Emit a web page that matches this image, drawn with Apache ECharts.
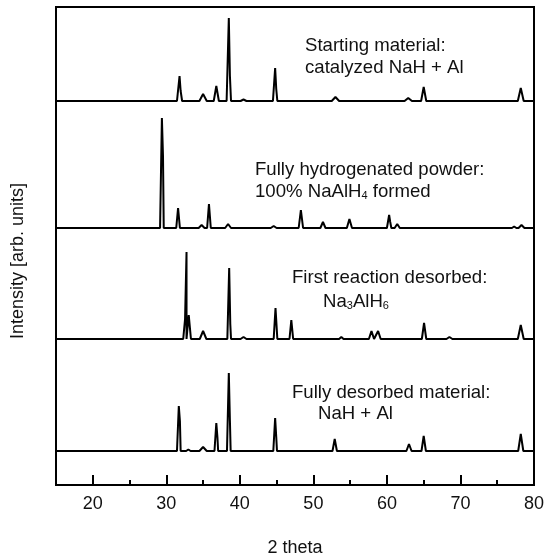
<!DOCTYPE html>
<html>
<head>
<meta charset="utf-8">
<script src="https://cdn.jsdelivr.net/npm/echarts@6/dist/echarts.min.js"></script>
<style>
html, body { margin: 0; padding: 0; background: #fff; }
#chart { width: 547px; height: 559px; }
</style>
</head>
<body>
<div id="chart"></div>
<script>
// XRD peaks: [2 theta, height above baseline, half width at foot]
var peaks_start = [
    [31.8, 25, 0.35], [31.95, 10, 0.3], [35.0, 7, 0.5], [36.8, 15, 0.35],
    [38.5, 83, 0.3], [38.65, 25, 0.25], [40.5, 1.5, 0.4], [44.8, 33, 0.3],
    [44.95, 12, 0.25], [53.0, 4, 0.5], [62.9, 3, 0.5], [65.0, 14, 0.35],
    [78.2, 13, 0.4]
];
var peaks_hydrogenated = [
    [29.4, 110, 0.25], [29.55, 72, 0.25], [31.6, 20, 0.25], [34.8, 3, 0.4],
    [35.8, 24, 0.25], [38.4, 4, 0.4], [44.6, 2, 0.4], [48.3, 18, 0.3],
    [48.45, 9, 0.25], [51.3, 6, 0.35], [54.9, 9, 0.35], [60.3, 13, 0.3],
    [60.45, 6, 0.25], [61.4, 4, 0.35], [77.3, 1.5, 0.3], [78.3, 3, 0.4]
];
var peaks_first = [
    [32.55, 20, 0.25], [32.75, 87, 0.25], [33.05, 24, 0.3], [35.0, 8, 0.45],
    [38.55, 71, 0.25], [38.7, 15, 0.25], [40.5, 2, 0.4], [44.85, 31, 0.25],
    [47.0, 19, 0.25], [53.8, 2, 0.3], [57.9, 8, 0.35], [58.8, 8, 0.35],
    [65.05, 16, 0.3], [68.5, 2, 0.4], [78.2, 14, 0.4]
];
var peaks_desorbed = [
    [31.7, 45, 0.25], [31.85, 30, 0.25], [33.0, 1.5, 0.3], [35.0, 4, 0.5],
    [36.8, 28, 0.25], [36.95, 14, 0.25], [38.5, 78, 0.25], [38.65, 30, 0.25],
    [44.8, 33, 0.25], [44.95, 14, 0.25], [52.9, 12, 0.3], [63.0, 7, 0.35],
    [65.0, 15, 0.3], [78.2, 17, 0.35]
];

var major_ticks = [20, 30, 40, 50, 60, 70, 80];
var minor_ticks = [25, 35, 45, 55, 65, 75];

var notes_start = ['Starting material:', 'catalyzed NaH + Al'];
var notes_hydrogenated = ['Fully hydrogenated powder:', '100% NaAlH{sub|4} formed'];
var notes_first = ['First reaction desorbed:', 'Na{sub|3}AlH{sub|6}'];
var notes_desorbed = ['Fully desorbed material:', 'NaH + Al'];

var font = '"Liberation Sans", Arial, Helvetica, sans-serif';
var plot_left = 56, plot_top = 7, plot_w = 478, plot_h = 478;
var baselines = [101, 228, 339, 451];

function build_trace(peaks) {
    var pts = [[15, 0], [80, 0]];
    peaks.forEach(function (p) {
        pts.push([p[0] - p[2], 0]);
        pts.push([p[0], p[1]]);
        pts.push([p[0] + p[2], 0]);
    });
    pts.sort(function (a, b) { return a[0] - b[0]; });
    return pts;
}

var all_peaks = [peaks_start, peaks_hydrogenated, peaks_first, peaks_desorbed];

var grids = [], xAxes = [], yAxes = [], series = [];
all_peaks.forEach(function (pk, i) {
    var up = Math.min(112, baselines[i] - plot_top);
    grids.push({left: plot_left, width: plot_w, top: baselines[i] - up, height: up + 6,
        outerBoundsMode: 'none'});
    xAxes.push({type: 'value', gridIndex: i, min: 15, max: 80, show: false});
    yAxes.push({type: 'value', gridIndex: i, min: -6, max: up, show: false});
    series.push({
        type: 'line',
        xAxisIndex: i,
        yAxisIndex: i,
        data: build_trace(pk),
        showSymbol: false,
        lineStyle: {color: '#000', width: 2},
        animation: false
    });
});

// frame grid with the real x axis
grids.push({left: plot_left, width: plot_w, top: plot_top, height: plot_h,
    outerBoundsMode: 'none',
    show: true, borderColor: '#000', borderWidth: 2, backgroundColor: 'transparent'});
xAxes.push({
    type: 'value', gridIndex: 4, position: 'bottom', min: 15, max: 80,
    axisLine: {show: false},
    splitLine: {show: false},
    axisTick: {inside: true, length: 10, customValues: major_ticks, lineStyle: {color: '#000', width: 2}},
    axisLabel: {customValues: major_ticks, fontSize: 18, color: '#111', margin: 10, fontFamily: font},
    name: '2 theta', nameLocation: 'middle', nameGap: 54,
    nameTextStyle: {fontSize: 18, color: '#111', fontFamily: font}
});
xAxes.push({
    type: 'value', gridIndex: 4, position: 'bottom', min: 15, max: 80,
    axisLine: {show: false},
    splitLine: {show: false},
    axisTick: {inside: true, length: 5, customValues: minor_ticks, lineStyle: {color: '#000', width: 2}},
    axisLabel: {show: false}
});
yAxes.push({type: 'value', gridIndex: 4, show: false, min: 0, max: 1});

var note_pos = [
    [[305, 46], [305, 68]],
    [[255, 170], [255, 192]],
    [[292, 278], [323, 302]],
    [[292, 393], [318, 414]]
];
var all_notes = [notes_start, notes_hydrogenated, notes_first, notes_desorbed];
var graphics = [];
all_notes.forEach(function (lines, i) {
    lines.forEach(function (txt, j) {
        graphics.push({
            type: 'text',
            left: note_pos[i][j][0],
            top: note_pos[i][j][1] - 10,
            style: {
                text: txt,
                font: '18.6px ' + font,
                fill: '#111',
                rich: {
                    sub: {fontSize: 11, fontFamily: font, fill: '#111', padding: [9, 0, 0, 0]}
                }
            }
        });
    });
});
graphics.push({
    type: 'text',
    x: 18, y: 261,
    rotation: Math.PI / 2,
    style: {
        text: 'Intensity [arb. units]',
        font: '18px ' + font,
        fill: '#111',
        align: 'center',
        verticalAlign: 'middle'
    }
});

var chart = echarts.init(document.getElementById('chart'));
chart.setOption({
    animation: false,
    grid: grids,
    xAxis: xAxes,
    yAxis: yAxes,
    series: series,
    graphic: graphics
});
</script>
</body>
</html>
